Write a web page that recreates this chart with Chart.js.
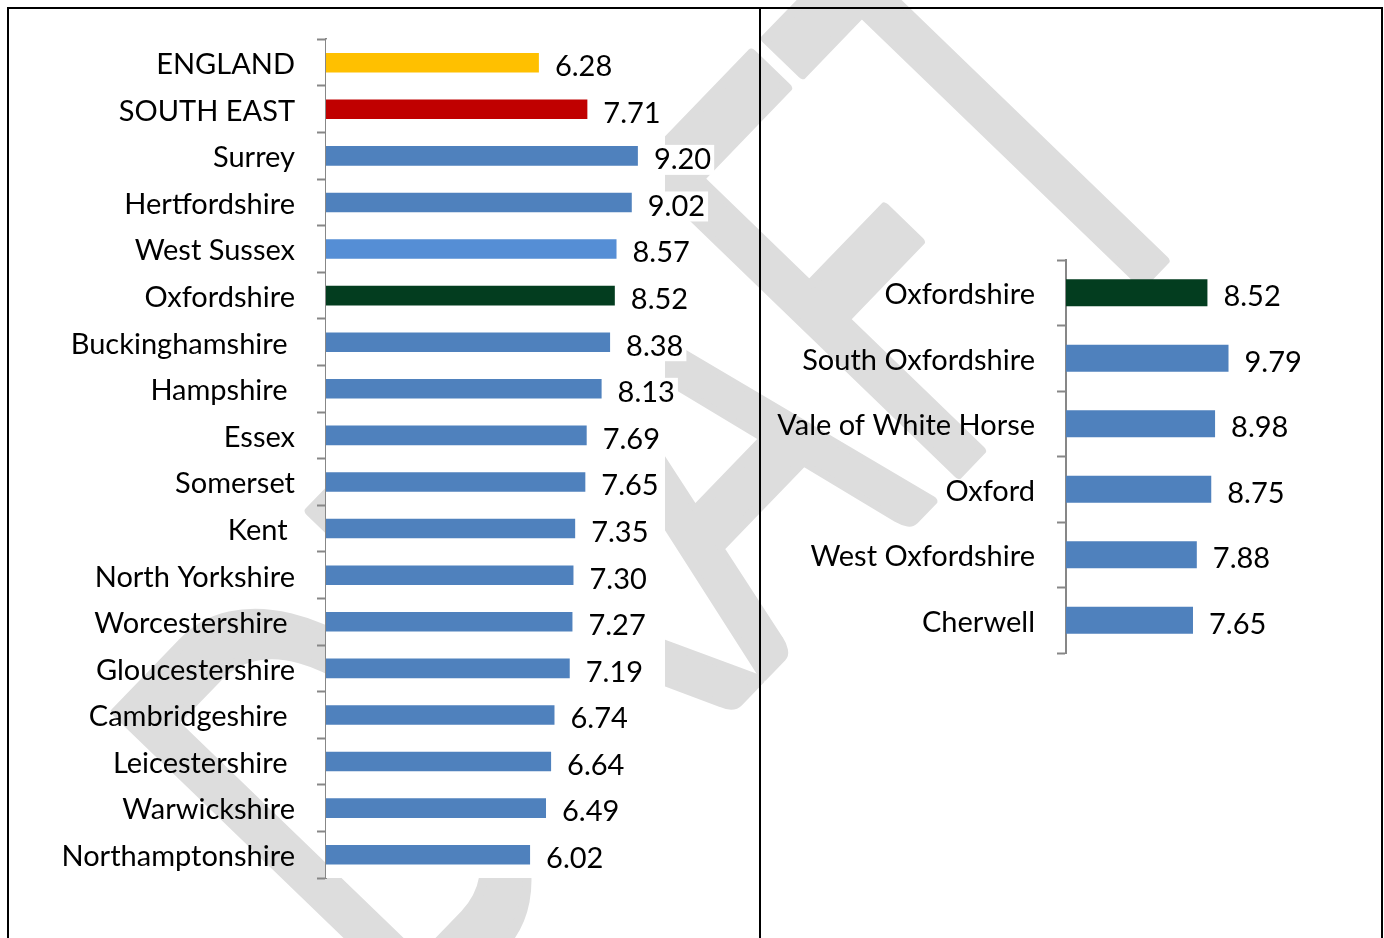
<!DOCTYPE html>
<html>
<head>
<meta charset="utf-8">
<script src="https://cdn.jsdelivr.net/npm/chart.js@4.4.0/dist/chart.umd.min.js"></script>
<style>
  html, body { margin:0; padding:0; background:#fff; width:1384px; height:938px; overflow:hidden; }
  canvas { position:absolute; top:0; }
  #wm { left:0; }
  #leftChart { left:0; }
  #rightChart { left:760px; }
  #frame { position:absolute; left:7px; top:7px; width:1376px; height:940px; box-sizing:border-box;
           border:2px solid #000; border-bottom:none; }
  #divider { position:absolute; left:759px; top:7px; width:2px; height:940px; background:#000; }
</style>
</head>
<body>
<canvas id="wm" width="1384" height="938"></canvas>
<canvas id="leftChart" width="760" height="938"></canvas>
<canvas id="rightChart" width="624" height="938"></canvas>
<div id="frame"></div>
<div id="divider"></div>
<script>
// ---------- data ----------
const leftCategories = ['ENGLAND', 'SOUTH EAST', 'Surrey', 'Hertfordshire', 'West Sussex', 'Oxfordshire',
  'Buckinghamshire ', 'Hampshire ', 'Essex', 'Somerset', 'Kent ', 'North Yorkshire', 'Worcestershire ',
  'Gloucestershire', 'Cambridgeshire ', 'Leicestershire ', 'Warwickshire', 'Northamptonshire'];
const leftValues = [6.28, 7.71, 9.20, 9.02, 8.57, 8.52, 8.38, 8.13, 7.69, 7.65, 7.35, 7.30, 7.27, 7.19, 6.74, 6.64, 6.49, 6.02];

const rightCategories = ['Oxfordshire', 'South Oxfordshire', 'Vale of White Horse', 'Oxford', 'West Oxfordshire', 'Cherwell'];
const rightValues = [8.52, 9.79, 8.98, 8.75, 7.88, 7.65];

const watermarkText = 'DRAFT';

// ---------- styles ----------
const BLUE = '#4F81BD';
const leftColors = ['#FFC000', '#C00000', BLUE, BLUE, '#558ED5', '#033D1F', BLUE, BLUE, BLUE, BLUE, BLUE, BLUE, BLUE, BLUE, BLUE, BLUE, BLUE, BLUE];
const rightColors = ['#033D1F', BLUE, BLUE, BLUE, BLUE, BLUE];
const FONT_FAMILY = 'Lato, "Open Sans", sans-serif';
const FONT_SIZE = 29;
const FONT = FONT_SIZE + 'px ' + FONT_FAMILY;

// ---------- watermark (behind charts) ----------
(function drawWatermark() {
  const c = document.getElementById('wm');
  const ctx = c.getContext('2d');
  const F = 470;
  const ang = -46 * Math.PI / 180;
  ctx.save();
  ctx.font = F + 'px ' + FONT_FAMILY;
  const w = ctx.measureText(watermarkText).width;
  const wT = ctx.measureText('T').width;
  const sx = 1180 / w;
  const sy = 440 / (0.7165 * F);
  ctx.translate(1153, 272);
  ctx.rotate(ang);
  ctx.scale(sx, sy);
  ctx.textAlign = 'right';
  ctx.textBaseline = 'alphabetic';
  ctx.fillStyle = 'rgb(221,221,221)';
  ctx.strokeStyle = 'rgb(221,221,221)';
  ctx.lineWidth = 8;
  ctx.lineJoin = 'round';
  ctx.fillText(watermarkText, wT / 2, 0);
  ctx.strokeText(watermarkText, wT / 2, 0);
  ctx.restore();
})();

// ---------- plugins ----------
const plotFill = {
  id: 'plotFill',
  beforeDatasetsDraw(chart, args, opts) {
    if (!opts.fill) return;
    const a = chart.chartArea, ctx = chart.ctx;
    ctx.save();
    ctx.fillStyle = '#fff';
    ctx.fillRect(a.left, a.top, a.right - a.left, a.bottom - a.top);
    ctx.restore();
  }
};
const valueLabels = {
  id: 'valueLabels',
  afterDraw(chart, args, opts) {
    const ctx = chart.ctx;
    const meta = chart.getDatasetMeta(0);
    const data = chart.data.datasets[0].data;
    ctx.save();
    ctx.font = FONT;
    ctx.textAlign = 'left';
    ctx.textBaseline = 'middle';
    meta.data.forEach((bar, i) => {
      const t = Number(data[i]).toFixed(2);
      const x = bar.x + opts.gap, y = bar.y + opts.dy;
      const w = ctx.measureText(t).width;
      ctx.fillStyle = '#fff';
      ctx.fillRect(x - 3, y - 15, w + 6, 30);
      ctx.fillStyle = '#000';
      ctx.fillText(t, x, y);
    });
    ctx.restore();
  }
};

function makeChart(id, labels, values, colors, cfg) {
  return new Chart(document.getElementById(id), {
    type: 'bar',
    data: {
      labels: labels,
      datasets: [{
        data: values,
        backgroundColor: colors,
        borderWidth: 0,
        barPercentage: cfg.barPct,
        categoryPercentage: 1.0
      }]
    },
    plugins: [plotFill, valueLabels],
    options: {
      indexAxis: 'y',
      responsive: false,
      animation: false,
      devicePixelRatio: 1,
      layout: { padding: cfg.padding },
      plugins: {
        legend: { display: false },
        tooltip: { enabled: false },
        plotFill: { fill: cfg.fill },
        valueLabels: { gap: 16, dy: 4 }
      },
      scales: {
        x: { display: false, min: 0, max: 10 },
        y: {
          z: 1,
          afterFit(scale) { scale.width = cfg.axisX; },
          grid: { display: true, drawOnChartArea: false, drawTicks: true, tickLength: 9,
                  tickWidth: 2, tickColor: '#878787', offset: true },
          border: { display: true, color: '#878787', width: 2 },
          ticks: { color: '#000', font: { family: FONT_FAMILY, size: FONT_SIZE }, padding: 22,
                   autoSkip: false, labelOffset: 2 }
        }
      }
    }
  });
}

makeChart('leftChart', leftCategories, leftValues, leftColors,
  { padding: { left: 0, top: 39, right: 95, bottom: 60 }, axisX: 326, barPct: 0.42, fill: true });
makeChart('rightChart', rightCategories, rightValues, rightColors,
  { padding: { left: 0, top: 260, right: 152, bottom: 285 }, axisX: 306, barPct: 0.41, fill: false });
</script>
</body>
</html>
